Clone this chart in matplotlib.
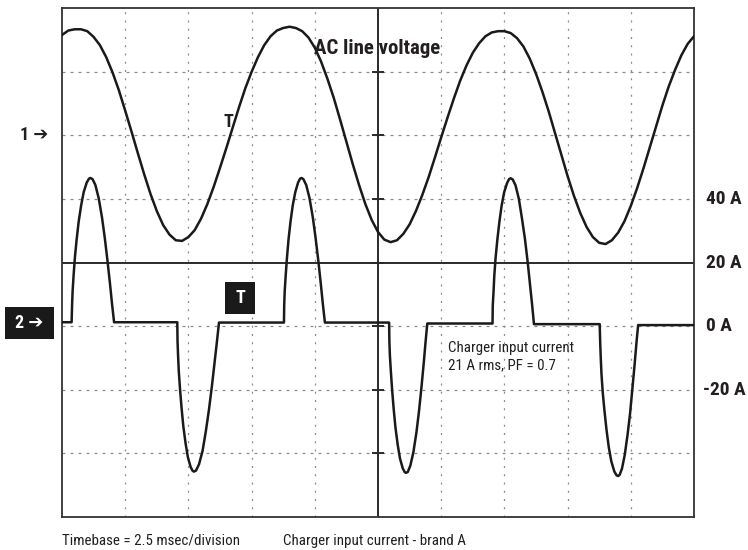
import matplotlib

matplotlib.use("Agg")
import matplotlib.pyplot as plt
import numpy as np
from matplotlib.patches import Rectangle

# channel 1: AC line voltage, in scope divisions relative to its "1" marker
volt_time_ms = [
    0.0, 0.25, 0.5, 0.75, 1.0, 1.25, 1.5, 1.75, 2.0, 2.25, 2.5, 2.75, 3.0, 3.25, 3.5, 3.75,
    4.0, 4.25, 4.5, 4.75, 5.0, 5.25, 5.5, 5.75, 6.0, 6.25, 6.5, 6.75, 7.0, 7.25, 7.5, 7.75,
    8.0, 8.25, 8.5, 8.75, 9.0, 9.25, 9.5, 9.75, 10.0, 10.25, 10.5, 10.75, 11.0, 11.25, 11.5, 11.75,
    12.0, 12.25, 12.5, 12.75, 13.0, 13.25, 13.5, 13.75, 14.0, 14.25, 14.5, 14.75, 15.0, 15.25, 15.5, 15.75,
    16.0, 16.25, 16.5, 16.75, 17.0, 17.25, 17.5, 17.75, 18.0, 18.25, 18.5, 18.75, 19.0, 19.25, 19.5, 19.75,
    20.0, 20.25, 20.5, 20.75, 21.0, 21.25, 21.5, 21.75, 22.0, 22.25, 22.5, 22.75, 23.0, 23.25, 23.5, 23.75,
    24.0, 24.25, 24.5, 24.75, 25.0,
]
line_voltage_div = [
    1.58, 1.65, 1.67, 1.67, 1.64, 1.55, 1.42, 1.23, 0.99, 0.71,
    0.39, 0.06, -0.28, -0.61, -0.92, -1.19, -1.41, -1.56, -1.65, -1.66,
    -1.60, -1.49, -1.31, -1.08, -0.81, -0.51, -0.20, 0.12, 0.44, 0.74,
    1.00, 1.23, 1.42, 1.56, 1.65, 1.69, 1.71, 1.69, 1.64, 1.54,
    1.38, 1.16, 0.89, 0.59, 0.25, -0.10, -0.45, -0.78, -1.08, -1.33,
    -1.52, -1.64, -1.68, -1.65, -1.55, -1.40, -1.19, -0.94, -0.66, -0.35,
    -0.03, 0.28, 0.58, 0.86, 1.10, 1.30, 1.45, 1.56, 1.62, 1.64,
    1.64, 1.61, 1.53, 1.40, 1.21, 0.97, 0.69, 0.38, 0.04, -0.30,
    -0.64, -0.95, -1.22, -1.44, -1.60, -1.69, -1.71, -1.65, -1.53, -1.35,
    -1.11, -0.83, -0.52, -0.19, 0.14, 0.47, 0.77, 1.03, 1.26, 1.44,
    1.56,
]

# channel 2: charger input current (A)
curr_time_ms = [
    0.0, 0.38, 0.40, 0.42, 0.46, 0.51, 0.58, 0.66, 0.76, 0.86, 0.98, 1.07, 1.13, 1.21, 1.32, 1.45,
    1.58, 1.69, 1.80, 1.90, 1.98, 2.06, 4.56, 4.57, 4.59, 4.62, 4.67, 4.73, 4.80, 4.89, 4.98, 5.09,
    5.17, 5.22, 5.30, 5.42, 5.56, 5.69, 5.81, 5.93, 6.04, 6.13, 6.21, 8.78, 8.79, 8.81, 8.85, 8.90,
    8.96, 9.04, 9.13, 9.23, 9.34, 9.42, 9.48, 9.55, 9.66, 9.79, 9.92, 10.03, 10.14, 10.24, 10.32, 10.40,
    12.94, 12.95, 12.97, 13.01, 13.06, 13.12, 13.19, 13.28, 13.37, 13.48, 13.56, 13.61, 13.68, 13.78, 13.90, 14.02,
    14.12, 14.22, 14.31, 14.38, 14.45, 17.03, 17.04, 17.07, 17.10, 17.15, 17.22, 17.30, 17.39, 17.49, 17.61, 17.69,
    17.75, 17.83, 17.94, 18.07, 18.19, 18.31, 18.42, 18.52, 18.60, 18.67, 21.27, 21.29, 21.31, 21.34, 21.39, 21.46,
    21.54, 21.63, 21.73, 21.85, 21.94, 22.00, 22.06, 22.15, 22.26, 22.37, 22.47, 22.56, 22.65, 22.72, 22.79, 25.0,
]
input_current_a = [
    1.2, 1.2, 6.9, 11, 16.1, 21.6, 27.3, 32.9, 38.1, 42.2, 45.2, 46.4, 46.6, 46.2, 44.4, 40.3,
    34.3, 27.9, 20.5, 13.2, 6.9, 1.2, 1.2, -4.7, -9, -14.3, -20, -25.8, -31.6, -37, -41.3, -44.4,
    -45.6, -45.8, -45.5, -43.5, -39.3, -33.1, -26.5, -18.9, -11.3, -4.8, 1.1, 1.1, 6.8, 11, 16.1, 21.6,
    27.2, 32.9, 38.1, 42.2, 45.2, 46.4, 46.6, 46.2, 44.4, 40.3, 34.3, 27.8, 20.5, 13.1, 6.8, 1.1,
    1.1, -4.8, -9.2, -14.4, -20.2, -26.1, -31.9, -37.4, -41.7, -44.8, -46, -46.2, -45.9, -43.9, -39.7, -33.5,
    -26.9, -19.2, -11.6, -5.1, 0.8, 0.8, 6.5, 10.7, 15.8, 21.3, 27.1, 32.7, 37.9, 42.1, 45.1, 46.3,
    46.5, 46.1, 44.3, 40.1, 34.1, 27.6, 20.2, 12.7, 6.4, 0.6, 0.6, -5.4, -9.7, -15.1, -20.9, -26.8,
    -32.7, -38.2, -42.6, -45.8, -47, -47.2, -46.8, -44.9, -40.6, -34.3, -27.6, -19.9, -12.2, -5.6, 0.3, 0.3,
]

current_labels = ["40 A", "20 A", "0 A", "-20 A"]
current_label_values = [40, 20, 0, -20]

MS_PER_DIV = 2.5
AMPS_PER_DIV = 20
CH1_POS = 6  # divisions from bottom
CH2_POS = 3

plt.rcParams["font.family"] = ["Roboto Condensed", "DejaVu Sans"]
INK = "#231f20"
TRACE = "#1a1a1a"
W, H = 748, 550

fig = plt.figure(figsize=(W / 100, H / 100), dpi=100)
ax = fig.add_axes([62 / W, 1 - 516.7 / H, 632 / W, 508.4 / H])
ax.set_xlim(0, 10 * MS_PER_DIV)
ax.set_ylim(0, 8)
ax.set_xticks([])
ax.set_yticks([])
for sp in ax.spines.values():
    sp.set_color("#333333")
    sp.set_linewidth(1.3)

# graticule
for i in range(1, 10):
    if i != 5:
        ax.axvline(i * MS_PER_DIV, color="#8c8c8c", lw=0.9, ls=(0, (1.6, 5.0)), zorder=1)
for j in range(1, 8):
    if j != 4:
        ax.axhline(j, color="#8c8c8c", lw=0.9, ls=(0, (2.4, 4.0)), zorder=1)
ax.axvline(5 * MS_PER_DIV, color="#2a2a2a", lw=1.4, zorder=2)
ax.axhline(4, color="#2a2a2a", lw=1.4, zorder=2)
ax.plot([5 * MS_PER_DIV] * 7, range(1, 8), ls="none", marker="_", ms=8, mew=1.4,
        color="#2a2a2a", zorder=2)

# traces
ax.plot(volt_time_ms, CH1_POS + np.array(line_voltage_div), color=TRACE, lw=1.8, zorder=3)
ax.plot(curr_time_ms, CH2_POS + np.array(input_current_a) / AMPS_PER_DIV, color=TRACE, lw=1.8, zorder=3)


def ftext(x, y, s, **kw):
    kw.setdefault("color", INK)
    kw.setdefault("va", "center")
    return fig.text(x / W, 1 - y / H, s, **kw)


ftext(314, 48, "AC line voltage", fontsize=15, fontweight="bold")
ftext(228.5, 122.5, "T", fontsize=13, fontweight="bold", ha="center")
fig.add_artist(Rectangle((225 / W, 1 - 314 / H), 30 / W, 32 / H, transform=fig.transFigure,
                         fc=TRACE, ec="none"))
ftext(240, 298, "T", fontsize=13, fontweight="bold", ha="center", color="white")

ftext(20, 135, "1 \u2794", fontsize=13, fontweight="bold")
fig.add_artist(Rectangle((5 / W, 1 - 339.3 / H), 49 / W, 32.6 / H, transform=fig.transFigure,
                         fc=TRACE, ec="none"))
ftext(29.5, 323, "2 \u2794", fontsize=13, fontweight="bold", ha="center", color="white")

# current scale on the right
for lab, val in zip(current_labels, current_label_values):
    ydiv = CH2_POS + val / AMPS_PER_DIV
    xpos = 1.0 + (11.5 if val >= 0 else 9.0) / 632
    ax.text(xpos, ydiv, lab, transform=ax.get_yaxis_transform(), fontsize=14, fontweight="bold",
            color=INK, va="center", ha="left", clip_on=False)

ftext(447.7, 347.7, "Charger input current", fontsize=10.8)
ftext(447.7, 365, "21 A rms, PF = 0.7", fontsize=10.8)
ftext(62, 540.7, "Timebase = 2.5 msec/division", fontsize=10.8)
ftext(283.3, 540.7, "Charger input current - brand A", fontsize=10.8)

fig.savefig("out.png", dpi=100)
plt.close(fig)
